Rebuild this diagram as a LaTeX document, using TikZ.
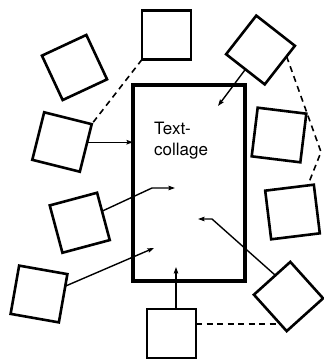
\documentclass[tikz,border=0pt]{standalone}
\usepackage{fontspec}
\setsansfont{TeX Gyre Heros}
\usetikzlibrary{calc,arrows.meta}

\begin{document}
\begin{tikzpicture}[x=1pt,y=-1pt,
  box/.style={draw, line width=2.6pt, minimum size=49pt, inner sep=0pt, outer sep=0pt},
  frame/.style={draw, line width=3.8pt, minimum width=112pt, minimum height=196pt, inner sep=0pt, outer sep=0pt},
  arr/.style={line width=1.4pt, -{Stealth[length=6.5pt,width=4.5pt,inset=1pt]}},
  link/.style={line width=1.6pt, dash pattern=on 6pt off 4.5pt}
]
\fill[white] (0,0) rectangle (323,363);
\useasboundingbox (0,0) rectangle (323,363);

% central text panel
\node[frame] (panel) at (189,183) {};
\node[font=\sffamily\fontsize{17}{21}\selectfont, align=left, anchor=north west, inner sep=0pt] (caption) at (154,122) {Text-\\collage};

% surrounding fragments
\node[box] (s1) at (166.5,35) {};
\node[box, rotate=25] (s2) at (74.5,67.5) {};
\node[box, rotate=-14] (s3) at (62,142) {};
\node[box, rotate=52] (s4) at (260.5,50) {};
\node[box, rotate=-7] (s5) at (279,135) {};
\node[box, rotate=15] (s6) at (79.75,222.75) {};
\node[box, rotate=7] (s10) at (292.5,212) {};
\node[box, rotate=-10] (s7) at (39,294) {};
\node[box] (s8) at (171.5,333.5) {};
\node[box, rotate=42] (s9) at (288.5,296.5) {};

% dashed links between fragments
\draw[link] (s1.south west) -- (s3.north east);
\coordinate (turn) at (321,152);
\draw[link] ($(s4.south)!0.45!(s4.south east)$) -- (turn) -- ($(s10.north)!0.75!(s10.north east)$);
\coordinate (d8) at ($(s8.north east)!0.3!(s8.south east)$);
\coordinate (d9) at ($(s9.north west)!0.76!(s9.south west)$);
\draw[link] (d8) -- (d8 -| d9);

% arrows into the panel
\coordinate (t3) at ($(s3.north east)!0.38!(s3.south east)$);
\draw[arr] (t3) -- (t3 -| panel.west);

\coordinate (t4) at (218,106);
\draw[arr] (s4.west) -- (t4);

\coordinate (k6) at (152,188);
\coordinate (t6) at (175,188);
\draw[arr] ($(s6.north east)!0.39!(s6.south east)$) -- (k6) -- (t6);

\coordinate (t7) at (154,248);
\draw[arr] ($(s7.north east)!0.25!(s7.south east)$) -- (t7);

\coordinate (t8) at (176,267);
\draw[arr] (t8 |- s8.north) -- (t8);

\coordinate (k9) at (212,219);
\coordinate (t9) at (198,219);
\draw[arr] ($(s9.north west)!0.59!(s9.north east)$) -- (k9) -- (t9);
\end{tikzpicture}
\end{document}
